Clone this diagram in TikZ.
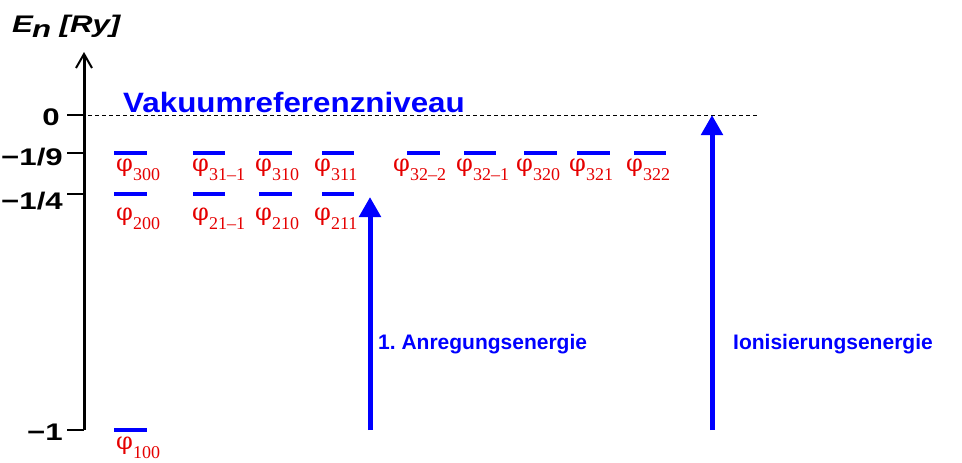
\documentclass[tikz,border=0pt]{standalone}
\usepackage{fontspec}
\setmainfont{Liberation Serif}
\newfontfamily\widesans[FakeStretch=1.3]{Liberation Sans}
\newfontfamily\vakuumfont[FakeStretch=1.12]{Liberation Sans}
\newfontfamily\plainsans{Liberation Sans}
\newfontfamily\phifont{DejaVu Serif}
\usetikzlibrary{arrows.meta}
% orbital label: phi with its quantum numbers
\newcommand{\orb}[1]{{\phifont\fontsize{24}{24}\selectfont φ}\raisebox{-9pt}{\fontsize{18}{18}\selectfont #1}}
\begin{document}
\begin{tikzpicture}[
        x=1pt, y=-1pt,
        level/.style={draw=blue, line width=4.5pt},
        orbital/.style={anchor=base west, inner sep=0pt, text=red!90!black},
        tick_label/.style={anchor=base east, inner sep=0pt, font=\widesans\bfseries\fontsize{24}{24}\selectfont},
        axis/.style={line width=3pt, -{Straight Barb[length=14pt, width=16pt, line width=2pt]}},
        tick/.style={line width=1.5pt},
        energy_arrow/.style={draw=blue, line width=5pt, -{Triangle[length=20pt, width=21pt]}},
        arrow_label/.style={anchor=base west, inner sep=0pt, text=blue, font=\plainsans\bfseries\fontsize{21}{21}\selectfont}
    ]
        \useasboundingbox (0,0) rectangle (962,463);

        % Energy axis
        \coordinate (origin) at (84,430);
        \coordinate (axis_top) at (84,52);
        \draw[axis] (origin) -- (axis_top);
        \node[anchor=base west, inner sep=0pt, font=\widesans\bfseries\itshape\fontsize{24}{24}\selectfont] (axis_title) at (12,32) {E\kern-1pt\raisebox{-5pt}{n} [Ry]};

        % Ticks and their values
        \draw[tick] (84,115) -- (67,115);
        \draw[tick] (84,153) -- (67,153);
        \draw[tick] (84,194) -- (67,194);
        \draw[tick] (84,430) -- (67,430);
        \node[tick_label] (t0) at (60,125) {0};
        \node[tick_label] (t9) at (63,165) {−1/9};
        \node[tick_label] (t4) at (63,209) {−1/4};
        \node[tick_label] (t1) at (63,440) {−1};

        % Vacuum level
        \draw[line width=1pt, dash pattern=on 4pt off 3pt] (67,115) -- (758,115);
        \node[anchor=base west, inner sep=0pt, text=blue, font=\vakuumfont\bfseries\fontsize{28}{28}\selectfont] (vakuum) at (123,112) {Vakuumreferenzniveau};

        % n = 3
        \draw[level] (114,153) -- (147,153);
        \draw[level] (193,153) -- (225,153);
        \draw[level] (259,153) -- (292,153);
        \draw[level] (322,153) -- (354,153);
        \draw[level] (407,153) -- (440,153);
        \draw[level] (464,153) -- (496,153);
        \draw[level] (524,153) -- (557,153);
        \draw[level] (577,153) -- (610,153);
        \draw[level] (634,153) -- (666,153);
        \node[orbital] (phi300) at (116,171) {\orb{300}};
        \node[orbital] (phi31m1) at (192,171) {\orb{31–1}};
        \node[orbital] (phi310) at (255,171) {\orb{310}};
        \node[orbital] (phi311) at (314,171) {\orb{311}};
        \node[orbital] (phi32m2) at (393,171) {\orb{32–2}};
        \node[orbital] (phi32m1) at (456,171) {\orb{32–1}};
        \node[orbital] (phi320) at (516,171) {\orb{320}};
        \node[orbital] (phi321) at (569,171) {\orb{321}};
        \node[orbital] (phi322) at (626,171) {\orb{322}};

        % n = 2
        \draw[level] (114,194) -- (147,194);
        \draw[level] (193,194) -- (225,194);
        \draw[level] (259,194) -- (292,194);
        \draw[level] (322,194) -- (354,194);
        \node[orbital] (phi200) at (116,220) {\orb{200}};
        \node[orbital] (phi21m1) at (192,220) {\orb{21–1}};
        \node[orbital] (phi210) at (255,220) {\orb{210}};
        \node[orbital] (phi211) at (314,220) {\orb{211}};

        % n = 1
        \draw[level] (114,430) -- (147,430);
        \node[orbital] (phi100) at (116,449) {\orb{100}};

        % Excitation and ionisation
        \coordinate (anr_start) at (370,430);
        \coordinate (anr_end) at (370,197);
        \coordinate (ion_start) at (712,430);
        \coordinate (ion_end) at (712,115);
        \draw[energy_arrow] (anr_start) -- (anr_end);
        \draw[energy_arrow] (ion_start) -- (ion_end);
        \node[arrow_label] (anr_label) at (378,349) {1.\ Anregungsenergie};
        \node[arrow_label] (ion_label) at (733,349) {Ionisierungsenergie};
    \end{tikzpicture}
\end{document}
